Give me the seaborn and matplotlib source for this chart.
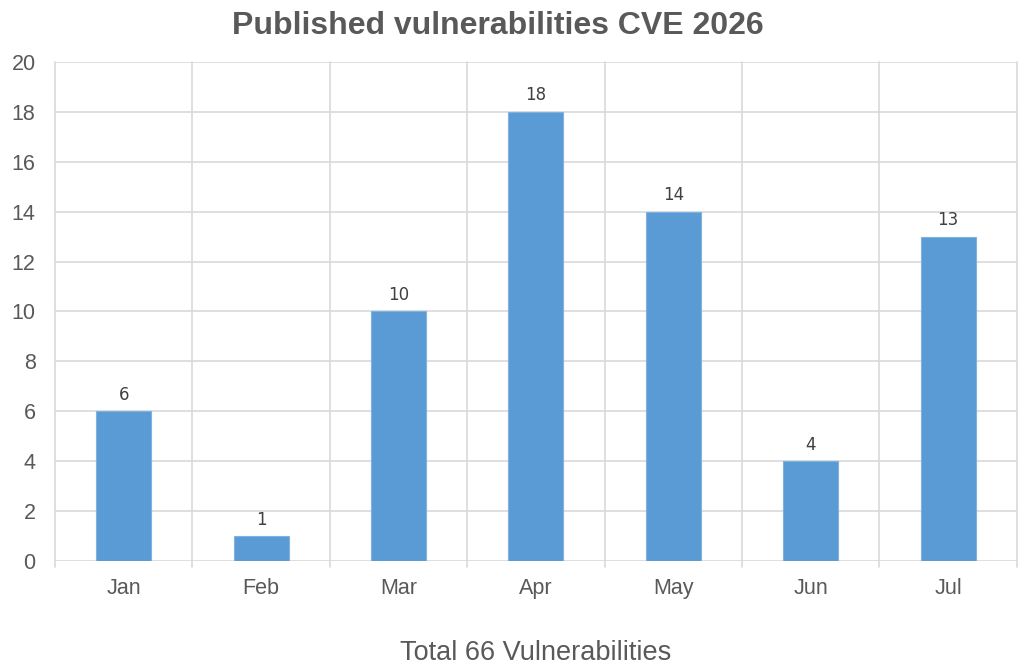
import pandas as pd
import matplotlib
matplotlib.use("Agg")
import matplotlib.pyplot as plt
import seaborn as sns

months = ["Jan", "Feb", "Mar", "Apr", "May", "Jun", "Jul"]
counts = [6, 1, 10, 18, 14, 4, 13]
y_ticks = [0, 2, 4, 6, 8, 10, 12, 14, 16, 18, 20]

df = pd.DataFrame({"month": months, "count": counts})

sns.set_style("white")
plt.rcParams['font.family'] = ['Liberation Sans', 'DejaVu Sans']

text_col = "#595959"
grid_col = "#D9D9D9"

fig = plt.figure(figsize=(10.24, 6.72), dpi=100)
ax = fig.add_axes([0.0537, 0.165, 0.9393, 0.743])

sns.barplot(data=df, x="month", y="count", color="#5B9BD5", width=0.4,
            saturation=1, ax=ax, zorder=3, edgecolor="#7FB2E0", linewidth=0.8)

# data labels
for i, v in enumerate(counts):
    ax.text(i, v + 0.3, str(v), ha="center", va="bottom", fontsize=12,
            color="#404040", family="DejaVu Sans")

ax.set_ylim(0, 20)
ax.set_xlim(-0.5, len(months) - 0.5)
ax.set_yticks(y_ticks)
ax.tick_params(axis="y", length=0, labelsize=15.5, labelcolor=text_col, pad=14)
ax.tick_params(axis="x", length=0, labelsize=15.5, labelcolor=text_col, pad=12)

# horizontal grid
for t in y_ticks:
    ax.axhline(t, color=grid_col, lw=1.2, zorder=1)
# vertical separators between categories, extending slightly below baseline
for b in range(len(months) + 1):
    ax.plot([b - 0.5, b - 0.5], [-0.25, 20], color=grid_col, lw=1.2,
            zorder=1, clip_on=False)

for s in ax.spines.values():
    s.set_visible(False)

ax.set_ylabel("")
ax.set_xlabel("Total 66 Vulnerabilities", fontsize=19.5, color=text_col, labelpad=30)
fig.text(0.486, 0.962, "Published vulnerabilities CVE 2026", fontsize=23,
         fontweight="bold", color=text_col, ha="center", va="center")

fig.savefig("out.png", dpi=100)
